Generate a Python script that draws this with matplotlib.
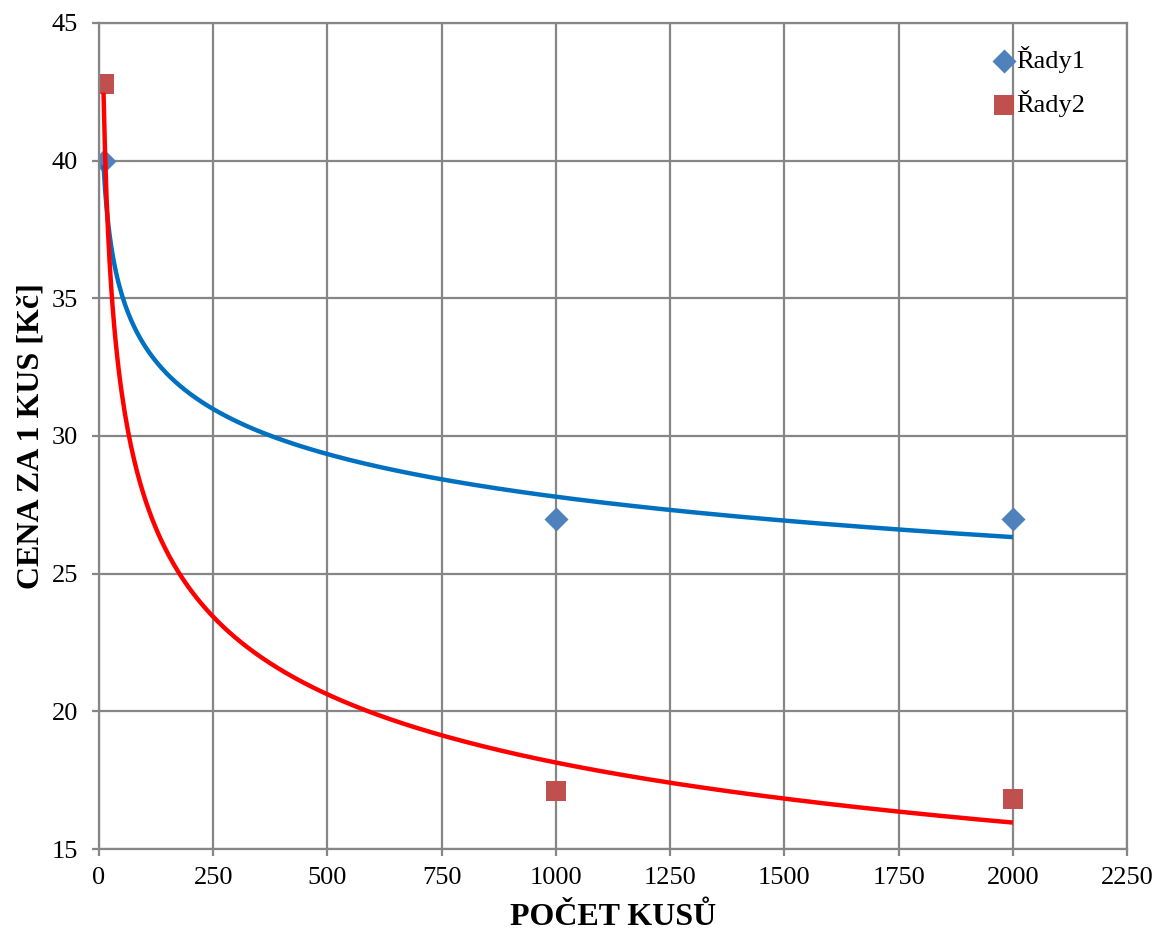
import matplotlib.pyplot as plt
import numpy as np

plt.rcParams['font.family'] = ['Liberation Serif', 'DejaVu Serif']

# data
x_rady1 = [10, 1000, 2000]
y_rady1 = [40, 27, 27]
x_rady2 = [10, 1000, 2000]
y_rady2 = [42.8, 17.1, 16.8]
x_ticks = [0, 250, 500, 750, 1000, 1250, 1500, 1750, 2000, 2250]
y_ticks = [15, 20, 25, 30, 35, 40, 45]


def power_trend(xs, ys):
    # Excel-style power trendline: ln y = c ln x + d
    c, d = np.polyfit(np.log(xs), np.log(ys), 1)
    xx = np.linspace(min(xs), max(xs), 600)
    return xx, np.exp(d) * xx ** c


fig = plt.figure(figsize=(11.56, 9.34), dpi=100)
ax = fig.add_axes([0.0856, 0.091, 0.8894, 0.8844])

grid_col = '#868686'
for v in x_ticks:
    ax.axvline(v, color=grid_col, lw=1.6, zorder=1)
for v in y_ticks:
    ax.axhline(v, color=grid_col, lw=1.6, zorder=1)

tx, ty = power_trend(x_rady1, y_rady1)
ax.plot(tx, ty, color='#0070C0', lw=3.2, zorder=3, solid_capstyle='butt')
tx, ty = power_trend(x_rady2, y_rady2)
ax.plot(tx, ty, color='#FF0000', lw=3.2, zorder=3, solid_capstyle='butt')

ax.scatter(x_rady1, y_rady1, marker='D', s=150, color='#4F81BD', zorder=2,
           label='Řady1', linewidths=0)
ax.scatter(x_rady2, y_rady2, marker='s', s=210, color='#C0504D', zorder=2,
           label='Řady2', linewidths=0)

ax.set_xlim(0, 2250)
ax.set_ylim(15, 45)
ax.set_xticks(x_ticks)
ax.set_yticks(y_ticks)
for s in ax.spines.values():
    s.set_color(grid_col)
    s.set_linewidth(1.6)
ax.tick_params(axis='both', colors=grid_col, length=5, width=1.6,
               labelsize=19, labelcolor='black')
ax.tick_params(axis='x', pad=8)
ax.tick_params(axis='y', pad=10)

ax.set_xlabel('POČET KUSŮ', fontsize=23, fontweight='bold', va='center')
ax.set_ylabel('CENA ZA 1 KUS [Kč]', fontsize=23, fontweight='bold', va='center')
ax.xaxis.set_label_coords(0.5, -0.0835)
ax.yaxis.set_label_coords(-0.066, 0.5)

ax.legend(loc='upper right', bbox_to_anchor=(0.977, 0.994), frameon=False,
          fontsize=19, handletextpad=0.0, handlelength=0.9,
          labelspacing=0.62, borderaxespad=0.3)

fig.savefig('out.png', dpi=100)
